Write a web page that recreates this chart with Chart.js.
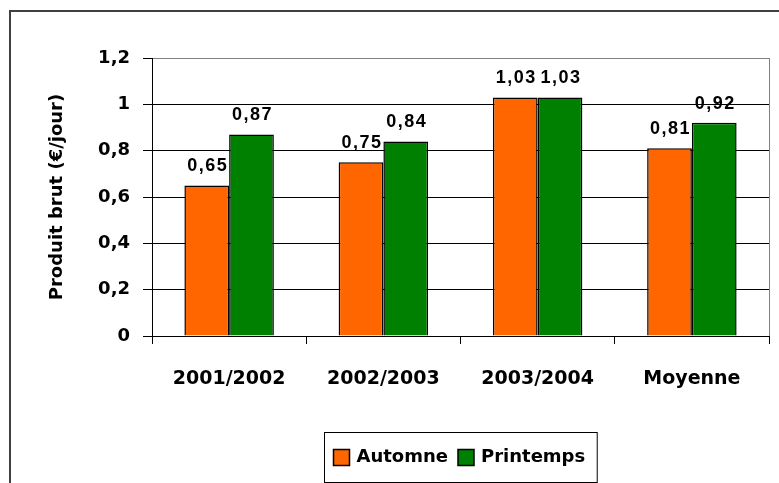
<!DOCTYPE html>
<html>
<head>
<meta charset="utf-8">
<script src="https://cdn.jsdelivr.net/npm/chart.js@4"></script>
<style>
  html, body { margin: 0; padding: 0; background: #fff; }
  #wrap { width: 779px; height: 483px; }
</style>
</head>
<body>
<div id="wrap"><canvas id="chart" width="779" height="483"></canvas></div>
<script>
const categories = ['2001/2002', '2002/2003', '2003/2004', 'Moyenne'];
const automne = [0.65, 0.75, 1.03, 0.81];
const printemps = [0.87, 0.84, 1.03, 0.92];
const yTicks = [0, 0.2, 0.4, 0.6, 0.8, 1, 1.2];

const comic = "'Comic Sans MS', 'DejaVu Sans', sans-serif";
const fmt = v => String(Math.round(v * 100) / 100).replace('.', ',');

// outer frame, right plot border, value labels and boxed legend
const extras = {
  id: 'extras',
  afterDatasetsDraw(chart) {
    const ctx = chart.ctx;
    ctx.save();
    ctx.font = "bold 18px 'Liberation Sans', Arial, sans-serif";
    ctx.letterSpacing = '1.5px';
    ctx.fillStyle = '#000';
    ctx.textAlign = 'center';
    ctx.textBaseline = 'alphabetic';
    chart.data.datasets.forEach((ds, i) => {
      chart.getDatasetMeta(i).data.forEach((bar, j) => {
        ctx.fillText(fmt(ds.data[j]), bar.x + 1, bar.y - 14);
      });
    });
    ctx.restore();
  },
  afterDraw(chart) {
    const ctx = chart.ctx;
    const a = chart.chartArea;
    ctx.save();
    // plot area right border
    ctx.strokeStyle = '#808080';
    ctx.lineWidth = 1;
    ctx.beginPath();
    ctx.moveTo(a.right + 0.5, a.top);
    ctx.lineTo(a.right + 0.5, a.bottom);
    ctx.stroke();
    // outer frame
    ctx.strokeStyle = '#404040';
    ctx.lineWidth = 2;
    ctx.beginPath();
    ctx.moveTo(10, 490);
    ctx.lineTo(10, 11);
    ctx.lineTo(790, 11);
    ctx.stroke();

    // legend
    ctx.font = 'bold 18px ' + comic;
    ctx.textBaseline = 'middle';
    ctx.textAlign = 'left';
    const items = chart.data.datasets.map(ds => ({ label: ds.label, color: ds.backgroundColor, w: ctx.measureText(ds.label).width }));
    const sq = 16, padL = 9, gapSq = 7, gapItem = 10, padR = 12;
    let total = padL + padR;
    items.forEach((it, k) => { total += sq + gapSq + it.w + (k ? gapItem : 0); });
    const bx = Math.round((a.left + a.right) / 2 - total / 2) + 0.5;
    const by = 432.5, bh = 50;
    ctx.strokeStyle = '#000';
    ctx.lineWidth = 1;
    ctx.strokeRect(bx, by, total, bh);
    let x = bx + padL;
    const cy = by + bh / 2;
    items.forEach((it, k) => {
      if (k) x += gapItem;
      ctx.fillStyle = it.color;
      ctx.fillRect(x, cy - sq / 2, sq, sq);
      ctx.lineWidth = 1.5;
      ctx.strokeRect(x, cy - sq / 2, sq, sq);
      x += sq + gapSq;
      ctx.fillStyle = '#000';
      ctx.fillText(it.label, x, cy);
      x += it.w;
    });
    ctx.restore();
  }
};

new Chart(document.getElementById('chart'), {
  type: 'bar',
  data: {
    labels: categories,
    datasets: [
      { label: 'Automne', data: automne, backgroundColor: '#FF6600', borderColor: '#000', borderWidth: 1.5 },
      { label: 'Printemps', data: printemps, backgroundColor: '#008000', borderColor: '#000', borderWidth: 1.5 }
    ]
  },
  options: {
    responsive: false,
    animation: false,
    devicePixelRatio: 1,
    layout: { padding: { left: 10, top: 58, right: 10, bottom: 0 } },
    datasets: { bar: { categoryPercentage: 0.58, barPercentage: 1 } },
    plugins: { legend: { display: false }, tooltip: { enabled: false } },
    scales: {
      x: {
        grid: { offset: true, drawOnChartArea: false, drawTicks: true, tickLength: 8, color: '#000' },
        border: { color: '#000', width: 1 },
        ticks: { color: '#000', padding: 24, font: { family: comic, size: 19, weight: 'bold' } },
        afterFit(scale) { scale.height = 147; }
      },
      y: {
        min: 0,
        max: 1.2,
        afterBuildTicks(scale) { scale.ticks = yTicks.map(v => ({ value: v })); },
        grid: {
          color: c => (c.tick && c.tick.value === 1.2 ? '#808080' : '#000'),
          tickColor: '#000',
          tickLength: 9,
          lineWidth: 1
        },
        border: { color: '#000', width: 1 },
        ticks: { color: '#000', padding: 13, callback: v => fmt(v), font: { family: comic, size: 18, weight: 'bold' } },
        title: {
          display: true,
          text: 'Produit brut (€/jour)',
          color: '#000',
          padding: { top: 37, bottom: 0 },
          font: { family: comic, size: 18, weight: 'bold' }
        },
        afterFit(scale) { scale.width = 142; }
      }
    }
  },
  plugins: [extras]
});
</script>
</body>
</html>
